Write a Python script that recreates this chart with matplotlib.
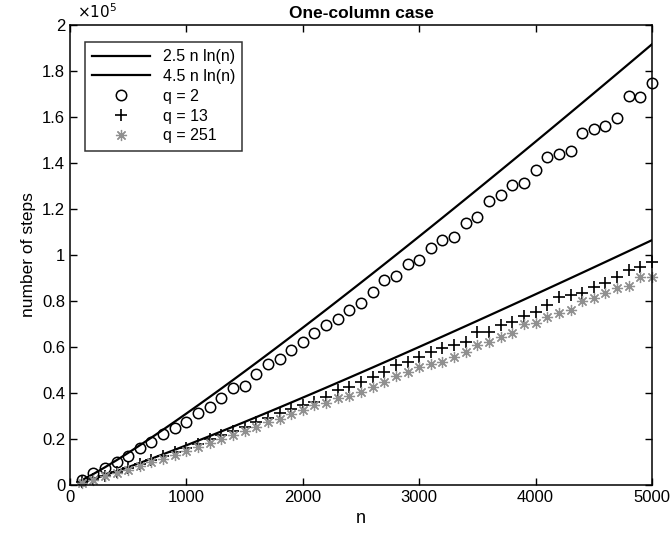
import numpy as np
import matplotlib
matplotlib.use("Agg")
import matplotlib.pyplot as plt
from matplotlib.ticker import FuncFormatter

plt.rcParams['font.family'] = ['Liberation Sans', 'DejaVu Sans']

# problem size n
n = np.arange(100, 5001, 100)

# reference curves: c * n ln(n)
line_coefs = [2.5, 4.5]
line_labels = ["2.5 n ln(n)", "4.5 n ln(n)"]

q2_steps = [2.2, 5.1, 7.4, 10.0, 12.8, 16.0, 18.8, 22.3, 25.0, 27.5,
            31.2, 34.0, 37.7, 42.2, 43.2, 48.3, 52.5, 54.6, 58.7, 62.2,
            66.1, 69.6, 72.0, 76.1, 79.0, 84.0, 89.0, 91.0, 96.2, 97.8,
            103.0, 106.5, 107.7, 114.0, 116.5, 123.5, 126.0, 130.5, 131.5, 137.0,
            142.5, 143.9, 145.2, 152.9, 154.7, 156.1, 159.4, 169.1, 168.8, 174.9]
q13_steps = [1.1, 2.5, 4.0, 5.6, 7.3, 9.0, 10.7, 12.4, 14.3, 16.1,
             17.9, 19.8, 21.6, 23.5, 25.4, 27.4, 29.3, 31.3, 33.1, 34.8,
             36.2, 38.4, 41.3, 42.7, 44.9, 47.1, 49.3, 52.2, 53.6, 55.8,
             58.0, 59.4, 61.0, 62.0, 66.5, 66.7, 69.6, 71.0, 73.5, 75.3,
             78.3, 81.6, 82.6, 83.3, 86.2, 87.7, 90.6, 93.5, 94.6, 97.1]
q251_steps = [1.0, 2.3, 3.7, 5.1, 6.7, 8.2, 9.8, 11.5, 13.1, 14.8,
              16.5, 18.2, 20.0, 21.8, 23.5, 25.4, 27.5, 28.6, 31.0, 32.6,
              34.6, 35.5, 38.0, 38.6, 40.6, 42.7, 44.9, 47.5, 49.3, 51.4,
              52.5, 53.6, 55.8, 58.0, 60.9, 62.0, 64.5, 66.0, 69.9, 70.3,
              73.2, 74.6, 76.1, 80.1, 81.2, 83.3, 85.5, 86.5, 90.6, 90.3]

fig = plt.figure(figsize=(6.7, 5.38), dpi=100)
ax = fig.add_axes([0.1045, 0.0985, 0.8686, 0.855])

for c, lab in zip(line_coefs, line_labels):
    ax.plot(n, c * n * np.log(n), color='black', lw=1.6, label=lab)

ax.plot(n, np.array(q2_steps) * 1000, linestyle='none', marker='o', ms=7.5,
        mfc='none', mec='black', mew=1.1, label='q = 2', clip_on=False)
ax.plot(n, np.array(q13_steps) * 1000, linestyle='none', marker='+', ms=9,
        mec='black', mew=1.2, label='q = 13', clip_on=False)
ax.plot(n, np.array(q251_steps) * 1000, linestyle='none', marker=(8, 2, 0), ms=8,
        mec='#909090', mew=0.9, label='q = 251', clip_on=False)

ax.set_xlim(0, 5000)
ax.set_ylim(0, 2e5)
ax.set_xticks(range(0, 5001, 1000))
ax.set_yticks(np.arange(0, 2.01e5, 0.2e5))
ax.yaxis.set_major_formatter(FuncFormatter(lambda v, p: f"{v / 1e5:g}"))
ax.tick_params(direction='in', top=True, right=True, length=5, width=1,
               labelsize=12)
for s in ax.spines.values():
    s.set_linewidth(1.1)

ax.set_title("One-column case", fontsize=12.5, fontweight='bold', pad=5)
ax.set_xlabel("n", fontsize=13)
ax.set_ylabel("number of steps", fontsize=12.5)
ax.text(0.012, 1.008, r"$\times10^{5}$", transform=ax.transAxes,
        fontsize=11, ha='left', va='bottom')

leg = ax.legend(loc='upper left', bbox_to_anchor=(0.026, 0.963),
                borderaxespad=0, fancybox=False, fontsize=11.5,
                handlelength=3.6, labelspacing=0.3, borderpad=0.45)
leg.get_frame().set_edgecolor('black')
leg.get_frame().set_linewidth(1.1)

fig.savefig("out.png", dpi=100)
